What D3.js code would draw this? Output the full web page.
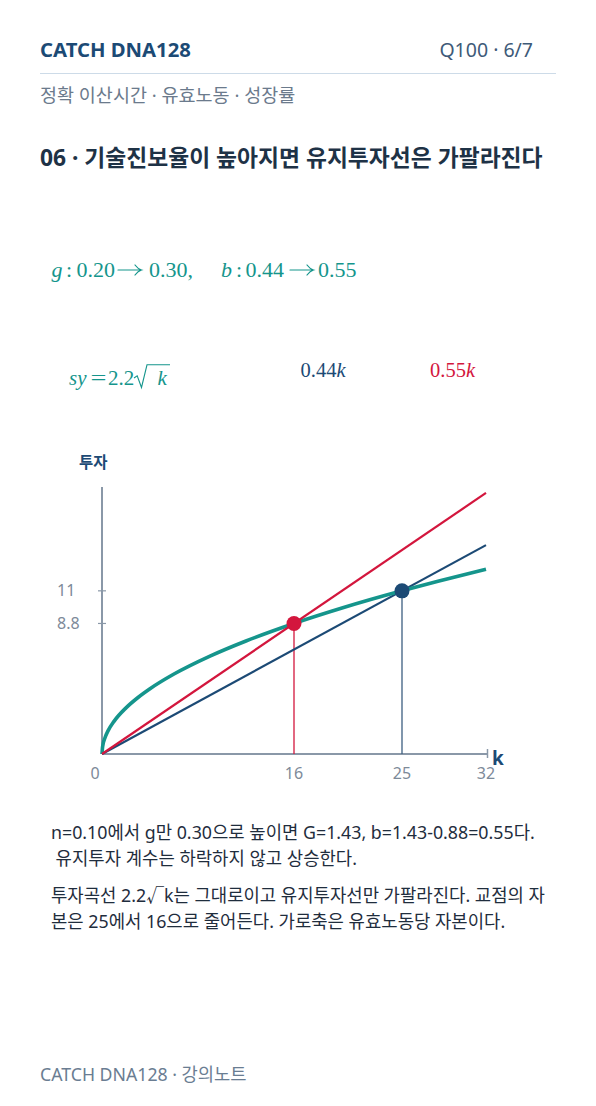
<!DOCTYPE html>
<html><head><meta charset="utf-8">
<script src="https://cdn.jsdelivr.net/npm/d3@7"></script>
<style>
html,body{margin:0;padding:0;background:#fff;}
svg{display:block;}
</style></head>
<body>
<svg id="c" width="596" height="1106"></svg>
<script>
// ---- data ----
const curveK = [0, 0.05, 0.25, 0.5, 1, 2, 3, 4, 6, 9, 12, 16, 20, 25, 28, 32];
const curveY = [0, 0.49, 1.1, 1.56, 2.2, 3.11, 3.81, 4.4, 5.39, 6.6, 7.62, 8.8, 9.84, 11, 11.64, 12.45];
const oldLineK = [0, 32];
const oldLineY = [0, 14.08];
const newLineK = [0, 32];
const newLineY = [0, 17.6];
const xTicks = [0, 16, 25, 32];
const xTickLabels = ["0", "16", "25", "32"];
const yTicks = [8.8, 11];
const yTickLabels = ["8.8", "11"];
const points = [{k: 16, y: 8.8, c: "red"}, {k: 25, y: 11, c: "navy"}];

const C = {teal: "#15958c", red: "#d3163d", navy: "#1c4a75", axis: "#8a98a8", text: "#1f2d3d", gray: "#6b7a8c"};
const sans = "'Noto Sans','Noto Sans CJK KR',sans-serif";
const serif = "'Liberation Serif','DejaVu Serif',serif";

const svg = d3.select("#c");

// header
svg.append("text").attr("x", 40).attr("y", 57).attr("font-family", sans).attr("font-weight", 700)
  .attr("font-size", 20.3).attr("fill", C.navy).text("CATCH DNA128");
svg.append("text").attr("x", 533).attr("y", 57).attr("text-anchor", "end").attr("font-family", sans)
  .attr("font-size", 19.5).attr("fill", "#3e5a78").text("Q100 · 6/7");
svg.append("line").attr("x1", 40).attr("x2", 556).attr("y1", 73.5).attr("y2", 73.5)
  .attr("stroke", "#cddbe8").attr("stroke-width", 1);
svg.append("text").attr("x", 40).attr("y", 101.5).attr("font-family", sans).attr("font-size", 18.5)
  .attr("fill", C.gray).text("정확 이산시간 · 유효노동 · 성장률");
svg.append("text").attr("x", 40).attr("y", 166).attr("font-family", sans).attr("font-weight", 700)
  .attr("font-size", 22.8).attr("fill", "#1e3246").text("06 · 기술진보율이 높아지면 유지투자선은 가팔라진다");

// math line
const mathBase = 277;
const mParts = [
  {t: "g", x: 51.4, it: true}, {t: ":", x: 66}, {t: "0.20", x: 76.6}, {t: "→", x: 118, ar: true},
  {t: "0.30,", x: 149}, {t: "b", x: 221, it: true}, {t: ":", x: 236}, {t: "0.44", x: 245.5},
  {t: "→", x: 290, ar: true}, {t: "0.55", x: 318}
];
mParts.forEach(p => {
  if (p.ar) {
    const ay = mathBase - 7, x0 = p.x, x1 = p.x + 23;
    svg.append("path")
      .attr("d", `M${x0},${ay} L${x1},${ay} M${x1 - 6},${ay - 5} Q${x1 - 3},${ay - 1} ${x1 + 0.5},${ay} Q${x1 - 3},${ay + 1} ${x1 - 6},${ay + 5}`)
      .attr("fill", "none").attr("stroke", C.teal).attr("stroke-width", 1.2).attr("stroke-linecap", "round");
  } else {
    svg.append("text").attr("x", p.x).attr("y", mathBase)
      .attr("font-family", serif).attr("font-size", 22)
      .attr("font-style", p.it ? "italic" : "normal").attr("fill", C.teal).text(p.t);
  }
});

// formula labels
const fParts = [
  {t: "sy", x: 69, it: true}, {t: "=", x: 90.5, s: 1.35}, {t: "2.2", x: 108}, {t: "k", x: 157.5, it: true}
];
fParts.forEach(p => {
  svg.append("text").attr("transform", `translate(${p.x},385) scale(${p.s || 1},1)`)
    .attr("font-family", serif).attr("font-size", 21)
    .attr("font-style", p.it ? "italic" : "normal").attr("fill", C.teal).text(p.t);
});
// radical sign
svg.append("path").attr("d", "M134,378 L137.2,375.8 L141.5,387.5 L147,364.8 L170,364.8")
  .attr("fill", "none").attr("stroke", C.teal).attr("stroke-width", 1.1).attr("stroke-linejoin", "miter");
const f2 = svg.append("text").attr("x", 300.5).attr("y", 377).attr("font-family", serif).attr("font-size", 20.5).attr("fill", C.navy);
f2.append("tspan").text("0.44");
f2.append("tspan").attr("font-style", "italic").text("k");
const f3 = svg.append("text").attr("x", 430).attr("y", 377).attr("font-family", serif).attr("font-size", 20.5).attr("fill", C.red);
f3.append("tspan").text("0.55");
f3.append("tspan").attr("font-style", "italic").text("k");

// chart
const x = d3.scaleLinear().domain([0, 32]).range([102, 486]);
const y = d3.scaleLinear().domain([0, 18]).range([754, 487]);

// axes
svg.append("line").attr("x1", x(0)).attr("x2", x(0)).attr("y1", y(18)).attr("y2", y(0))
  .attr("stroke", C.axis).attr("stroke-width", 2);
svg.append("line").attr("x1", x(0)).attr("x2", x(32) + 1).attr("y1", y(0)).attr("y2", y(0))
  .attr("stroke", C.axis).attr("stroke-width", 2);
svg.append("line").attr("x1", x(32) + 1.5).attr("x2", x(32) + 1.5).attr("y1", y(0) - 5).attr("y2", y(0) + 4)
  .attr("stroke", C.axis).attr("stroke-width", 1.5);

// y ticks
yTicks.forEach((t, i) => {
  svg.append("line").attr("x1", x(0) - 4).attr("x2", x(0) + 4).attr("y1", y(t)).attr("y2", y(t))
    .attr("stroke", C.axis).attr("stroke-width", 1.2);
  svg.append("text").attr("x", 57).attr("y", y(t) + 5.5).attr("font-family", sans).attr("font-size", 16)
    .attr("fill", "#7d8a99").text(yTickLabels[i]);
});
// x tick labels
xTicks.forEach((t, i) => {
  svg.append("text").attr("x", t === 0 ? x(t) - 7 : x(t)).attr("y", 779).attr("text-anchor", "middle")
    .attr("font-family", sans).attr("font-size", 16).attr("fill", "#7d8a99").text(xTickLabels[i]);
});
// axis titles
svg.append("text").attr("x", 79).attr("y", 468).attr("font-family", sans).attr("font-weight", 700)
  .attr("font-size", 15.5).attr("fill", C.navy).text("투자");
svg.append("text").attr("x", 492).attr("y", 765).attr("font-family", sans).attr("font-weight", 700)
  .attr("font-size", 19).attr("fill", C.navy).text("k");

// drop lines
svg.append("line").attr("x1", x(16)).attr("x2", x(16)).attr("y1", y(8.8)).attr("y2", y(0))
  .attr("stroke", C.red).attr("stroke-width", 1.3);
svg.append("line").attr("x1", x(25)).attr("x2", x(25)).attr("y1", y(11)).attr("y2", y(0))
  .attr("stroke", "#3d5f80").attr("stroke-width", 1.3);

const line = d3.line().x(d => x(d[0])).y(d => y(d[1]));
svg.append("path").datum(oldLineK.map((k, i) => [k, oldLineY[i]])).attr("d", line)
  .attr("fill", "none").attr("stroke", C.navy).attr("stroke-width", 2.2);
const curveLine = d3.line().x(d => x(d[0])).y(d => y(d[1])).curve(d3.curveMonotoneX);
svg.append("path").datum(curveK.map((k, i) => [k, curveY[i]])).attr("d", curveLine)
  .attr("fill", "none").attr("stroke", C.teal).attr("stroke-width", 3.6);
svg.append("path").datum(newLineK.map((k, i) => [k, newLineY[i]])).attr("d", line)
  .attr("fill", "none").attr("stroke", C.red).attr("stroke-width", 2.2);

points.forEach(p => {
  svg.append("circle").attr("cx", x(p.k)).attr("cy", y(p.y)).attr("r", 7.5)
    .attr("fill", p.c === "red" ? C.red : C.navy);
});

// body text
const body = [
  {t: "n=0.10에서 g만 0.30으로 높이면 G=1.43, b=1.43-0.88=0.55다.", y: 839},
  {t: " 유지투자 계수는 하락하지 않고 상승한다.", y: 865},
  {t: "투자곡선 2.2√k는 그대로이고 유지투자선만 가팔라진다. 교점의 자", y: 902},
  {t: "본은 25에서 16으로 줄어든다. 가로축은 유효노동당 자본이다.", y: 928}
];
body.forEach(b => {
  svg.append("text").attr("x", 51).attr("y", b.y).attr("font-family", sans).attr("font-size", 17.8)
    .attr("fill", C.text).attr("xml:space", "preserve").style("white-space", "pre").text(b.t);
});

svg.append("text").attr("x", 40).attr("y", 1081).attr("font-family", sans).attr("font-size", 17.7)
  .attr("fill", "#6a7d92").text("CATCH DNA128 · 강의노트");
</script>
</body></html>
